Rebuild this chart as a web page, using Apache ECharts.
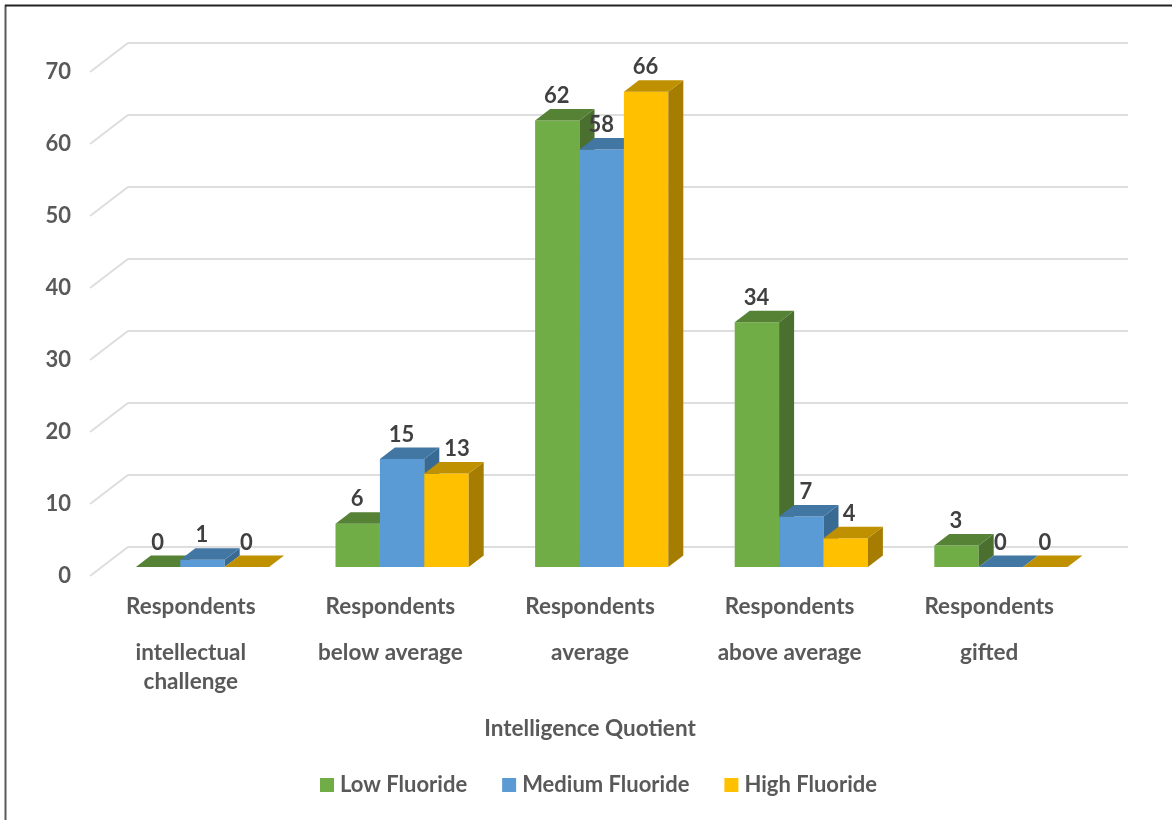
<!DOCTYPE html>
<html>
<head>
<meta charset="utf-8">
<style>html,body{margin:0;padding:0;background:#fff}#chart{width:1172px;height:820px}</style>
<script src="https://cdn.jsdelivr.net/npm/echarts@6/dist/echarts.min.js"></script>
</head>
<body>
<div id="chart"></div>
<script>
// Fluoride exposure groups by intelligence quotient band
const groupLabel = 'Respondents';
const categories = ['intellectual\nchallenge', 'below average', 'average', 'above average', 'gifted'];
const lowFluoride = [0, 6, 62, 34, 3];
const mediumFluoride = [1, 15, 58, 7, 0];
const highFluoride = [0, 13, 66, 4, 0];
const yTicks = [0, 10, 20, 30, 40, 50, 60, 70];

const FONT = 'Lato, "Open Sans", sans-serif';
const BAR_W = 44.4;
const SHIFT_X = 11.7, SHIFT_Y = -9;     // columns stand mid-way into the floor
const DEPTH_X = 15, DEPTH_Y = -11.5;    // receding faces of a column
const WALL_X = 38, WALL_Y = -29;        // back wall offset of the grid

const faces = {
  low: { front: '#70AD47', top: '#558235', side: '#4A6F2E' },
  medium: { front: '#5B9BD5', top: '#4276A3', side: '#386A93' },
  high: { front: '#FFC000', top: '#BF9000', side: '#A67D00' }
};

// Value labels pushed sideways so they clear a taller neighbour's top face
const labelNudge = { medium: { 3: 5 }, high: { 1: 11, 3: 4 } };

function poly(points, fill) {
  return { type: 'polygon', shape: { points }, style: { fill, stroke: null } };
}

// Draws one column as front, top and side faces plus its value label
function columnSeries(name, values, face, slot, nudge) {
  return {
    name,
    type: 'custom',
    coordinateSystem: 'cartesian2d',
    itemStyle: { color: face.front },
    encode: { x: 0, y: 1 },
    data: values.map((v, i) => [i, v]),
    clip: false,
    z: 3,
    renderItem(params, api) {
      const index = api.value(0);
      const base = api.coord([index, 0]);
      const head = api.coord([index, api.value(1)]);
      const x0 = base[0] + SHIFT_X + (slot - 1.5) * BAR_W;
      const x1 = x0 + BAR_W;
      const y0 = base[1] + SHIFT_Y;
      const y1 = head[1] + SHIFT_Y;
      const children = [];
      if (y0 - y1 > 0.5) {
        children.push(poly([[x0, y0], [x1, y0], [x1, y1], [x0, y1]], face.front));
        children.push(poly([[x1, y0], [x1 + DEPTH_X, y0 + DEPTH_Y], [x1 + DEPTH_X, y1 + DEPTH_Y], [x1, y1]], face.side));
      }
      children.push(poly([[x0, y1], [x1, y1], [x1 + DEPTH_X, y1 + DEPTH_Y], [x0 + DEPTH_X, y1 + DEPTH_Y]], face.top));
      children.push({
        type: 'text',
        z2: 100,
        style: {
          text: String(api.value(1)),
          x: x0 + BAR_W / 2 - 0.5 + ((nudge && nudge[index]) || 0),
          y: y1 - 24.5,
          align: 'center',
          verticalAlign: 'middle',
          fill: '#404040',
          font: 'bold 22px ' + FONT
        }
      });
      return { type: 'group', children };
    }
  };
}

// Gridlines run along the back wall and fold forward on the left side wall
const gridSeries = {
  name: 'grid',
  type: 'custom',
  coordinateSystem: 'cartesian2d',
  encode: { x: 0, y: 1 },
  data: yTicks.map(v => [0, v]),
  clip: false,
  silent: true,
  z: 1,
  renderItem(params, api) {
    const y = api.coord([0, api.value(1)])[1];
    const left = params.coordSys.x - 1;
    const right = params.coordSys.x + params.coordSys.width + WALL_X + 1;
    return {
      type: 'polyline',
      shape: { points: [[left, y], [left + WALL_X, y + WALL_Y], [right, y + WALL_Y]] },
      style: { stroke: '#DEDEDE', lineWidth: 2, fill: null }
    };
  }
};

const chart = echarts.init(document.getElementById('chart'), null, { renderer: 'canvas' });
chart.setOption({
  animation: false,
  backgroundColor: '#fff',
  textStyle: { fontFamily: FONT },
  grid: { left: 91, width: 998, top: 72, height: 504 },
  legend: {
    data: ['Low Fluoride', 'Medium Fluoride', 'High Fluoride'],
    left: 315,
    top: 769,
    icon: 'rect',
    itemWidth: 14,
    itemHeight: 14,
    itemGap: 35,
    textStyle: { color: '#595959', fontWeight: 'bold', fontSize: 22, fontFamily: FONT, padding: [0, 0, 0, 1] }
  },
  xAxis: {
    type: 'category',
    data: categories,
    name: 'Intelligence Quotient',
    nameLocation: 'middle',
    nameGap: 141,
    nameTextStyle: { color: '#595959', fontWeight: 'bold', fontSize: 22.5, fontFamily: FONT },
    axisLine: { show: false },
    axisTick: { show: false },
    splitLine: { show: false },
    axisLabel: {
      interval: 0,
      margin: 16,
      formatter: v => '{g|' + groupLabel + '}\n{s| }\n' + v.split('\n').map(t => '{g|' + t + '}').join('\n'),
      rich: {
        g: { color: '#595959', fontWeight: 'bold', fontSize: 22.5, lineHeight: 29, fontFamily: FONT, align: 'center' },
        s: { fontSize: 10, lineHeight: 17, align: 'center' }
      }
    }
  },
  yAxis: {
    type: 'value',
    min: 0,
    max: 70,
    interval: 10,
    axisLine: { show: false },
    axisTick: { show: false },
    splitLine: { show: false },
    axisLabel: { margin: 20, padding: [2, 0, 0, 0], color: '#595959', fontWeight: 'bold', fontSize: 22, fontFamily: FONT }
  },
  graphic: [
    { type: 'line', silent: true, shape: { x1: 5.5, y1: 5, x2: 5.5, y2: 820 }, style: { stroke: '#5a5a5a', lineWidth: 2 } },
    { type: 'line', silent: true, shape: { x1: 5, y1: 5.5, x2: 1172, y2: 5.5 }, style: { stroke: '#222', lineWidth: 2 } }
  ],
  series: [
    gridSeries,
    columnSeries('Low Fluoride', lowFluoride, faces.low, 0),
    columnSeries('Medium Fluoride', mediumFluoride, faces.medium, 1, labelNudge.medium),
    columnSeries('High Fluoride', highFluoride, faces.high, 2, labelNudge.high)
  ]
});
</script>
</body>
</html>
